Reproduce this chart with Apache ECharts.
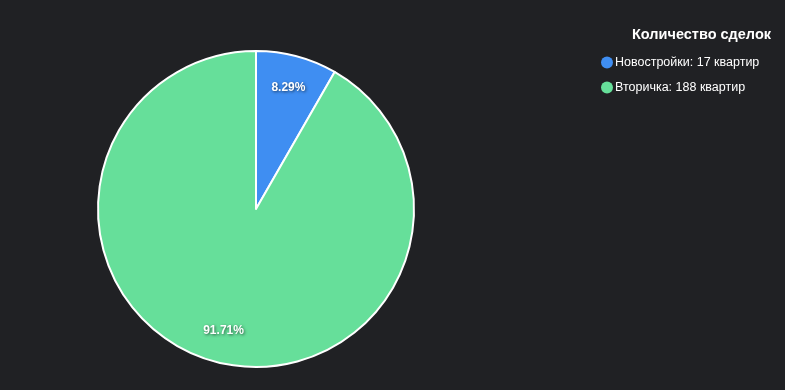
<!DOCTYPE html>
<html><head><meta charset="utf-8">
<script src="https://cdn.jsdelivr.net/npm/echarts@6/dist/echarts.min.js"></script>
<style>html,body{margin:0;padding:0;background:#202124;}#c{width:785px;height:390px;}</style>
</head><body><div id="c"></div>
<script>
const categories = ["Новостройки", "Вторичка"];
const values = [17, 188];
const colors = ["#3f8ef2", "#66df9a"];
const unit = "квартир";
const legendTitle = "Количество сделок";

const total = values.reduce((a, b) => a + b, 0);
const data = categories.map((c, i) => ({ name: c, value: values[i], itemStyle: { color: colors[i] } }));
const labelData = categories.map((c, i) => ({ name: c, value: values[i] }));

const chart = echarts.init(document.getElementById('c'));
chart.setOption({
  backgroundColor: '#202124',
  animation: false,
  title: {
    text: legendTitle, right: 9, top: 22,
    textStyle: { color: '#ffffff', fontSize: 14.5, fontWeight: 'bold', fontFamily: 'Liberation Sans, Arial, sans-serif' }
  },
  legend: {
    orient: 'vertical', left: 596, top: 51, itemGap: 12,
    icon: 'circle', itemWidth: 12, itemHeight: 12,
    itemStyle: { borderWidth: 0 },
    data: categories,
    formatter: name => name + ': ' + values[categories.indexOf(name)] + ' ' + unit,
    textStyle: { color: '#ffffff', fontSize: 12.5, fontFamily: 'Liberation Sans, Arial, sans-serif', padding: [0, 0, 0, -3] }
  },
  series: [
    {
      type: 'pie', center: [256, 209], radius: [0, 158], startAngle: 90, clockwise: true,
      label: { show: false }, labelLine: { show: false },
      itemStyle: { borderColor: '#ffffff', borderWidth: 2 },
      emphasis: { disabled: true },
      data: data
    },
    {
      type: 'pie', center: [256, 209], radius: [90, 156], startAngle: 90, clockwise: true,
      silent: true,
      itemStyle: { color: 'rgba(0,0,0,0)', borderWidth: 0 },
      label: {
        show: true, position: 'inside',
        formatter: p => (p.value / total * 100).toFixed(2) + '%',
        color: '#ffffff', fontSize: 12, fontWeight: 'bold', fontFamily: 'Liberation Sans, Arial, sans-serif',
        textShadowColor: 'rgba(0,0,0,0.6)', textShadowBlur: 3, textShadowOffsetX: 1, textShadowOffsetY: 1
      },
      labelLine: { show: false },
      data: labelData
    }
  ]
});
</script></body></html>
